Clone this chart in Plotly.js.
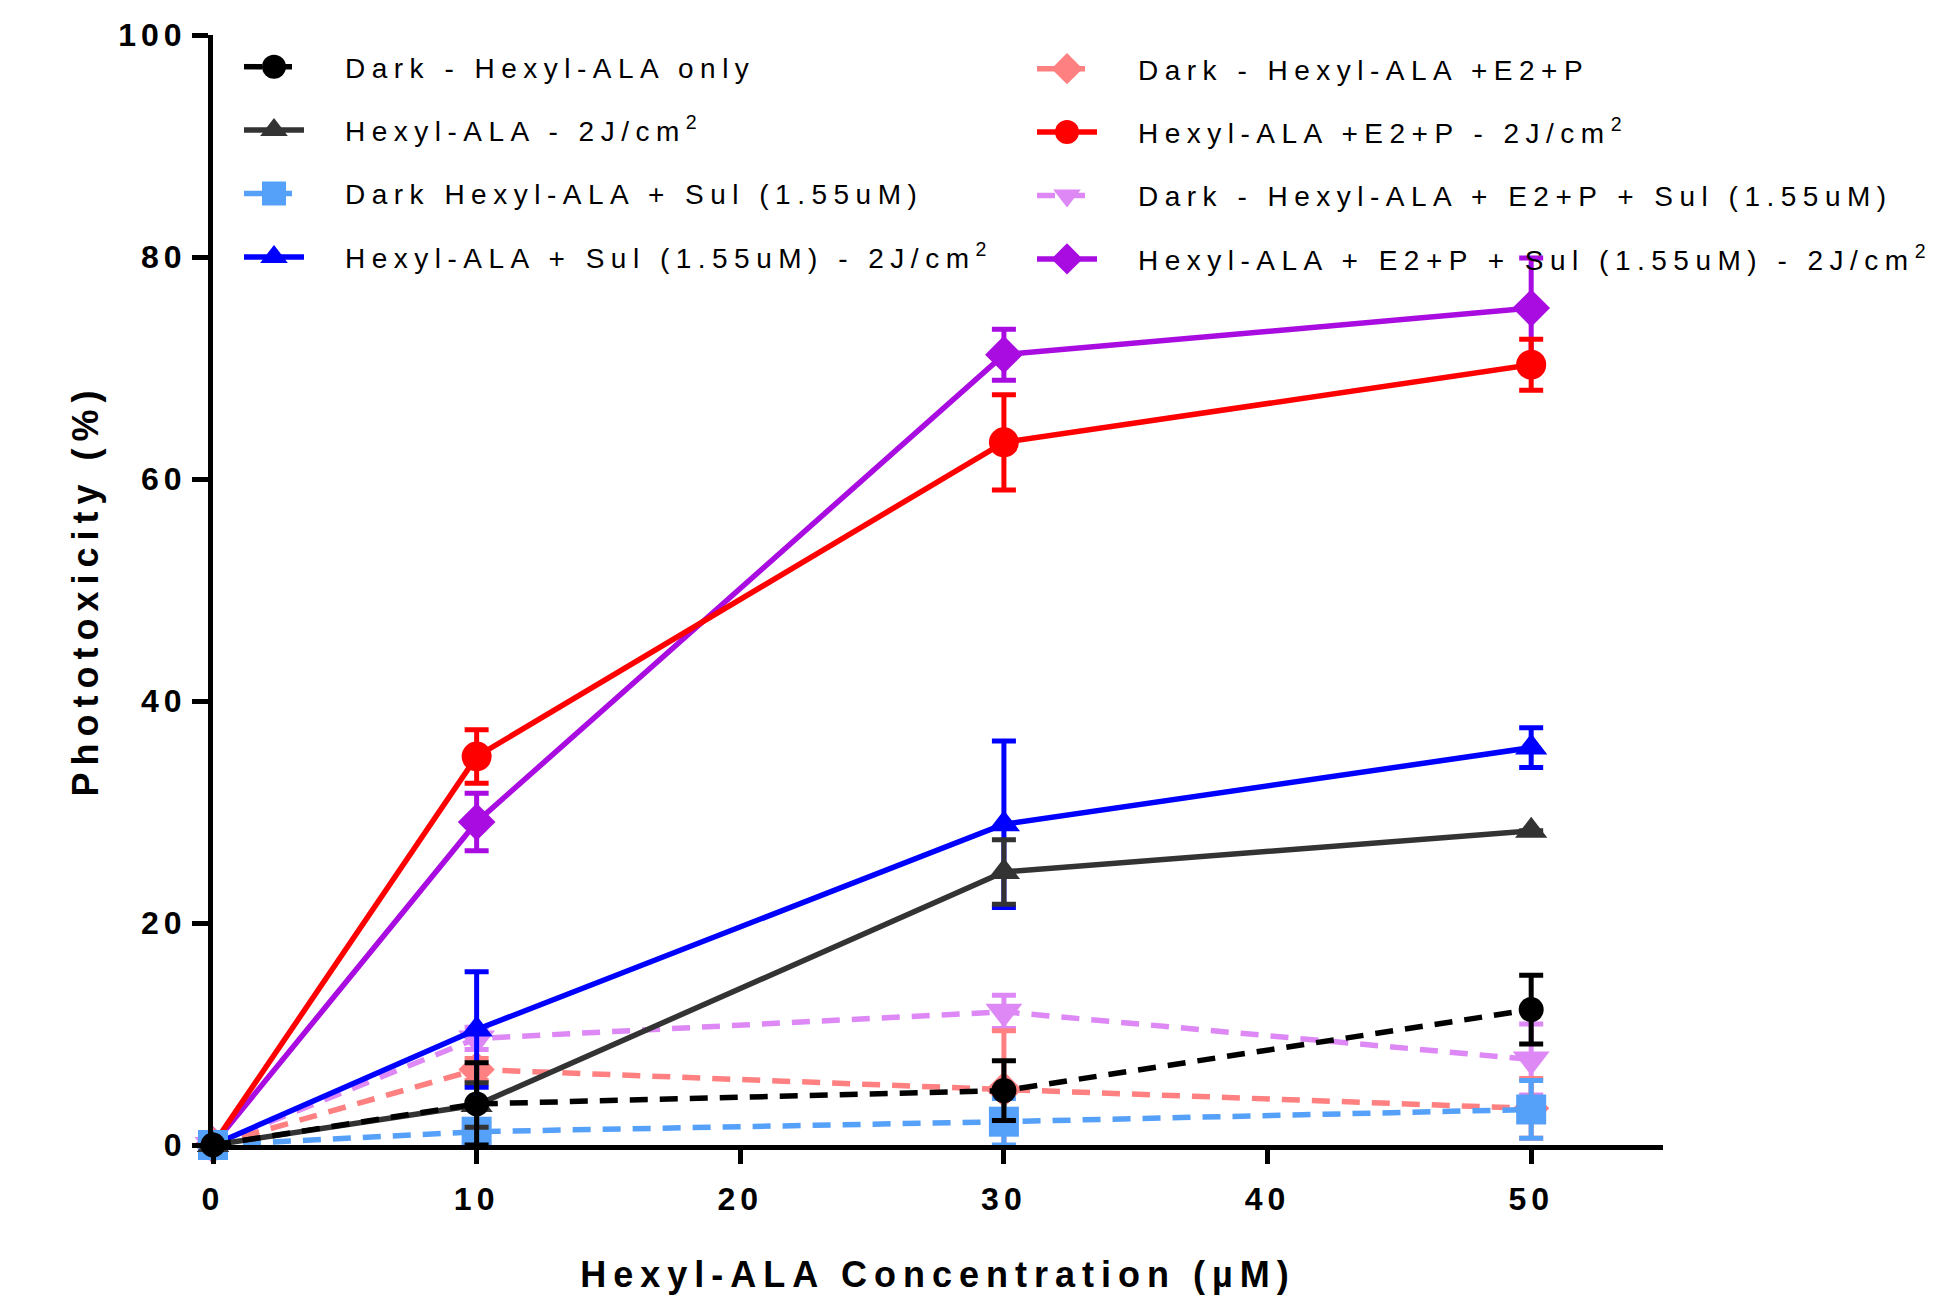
<!DOCTYPE html>
<html><head><meta charset="utf-8">
<script src="https://cdn.plot.ly/plotly-3.0.1.min.js"></script>
<style>
html,body{margin:0;padding:0;background:#fff;}
#chart{width:1943px;height:1305px;}
.infolayer text{letter-spacing:6.5px;}
.infolayer .traces text{transform:translateX(36px);}
.infolayer .scrollbox{clip-path:none !important;}
.infolayer .legendsymbols .scatterpts{transform:translate(35px,0px) scale(1.5);}
.xtick text,.ytick text{letter-spacing:5px;}
.infolayer .g-xtitle text,.infolayer .g-ytitle text{letter-spacing:7px;}
</style></head><body><div id="chart"></div>
<script>
// ---- data ----
const xConc = [0, 10, 30, 50];
const seriesNames = [
  "Dark - Hexyl-ALA only",
  "Hexyl-ALA - 2J/cm<sup>2</sup>",
  "Dark Hexyl-ALA + Sul (1.55uM)",
  "Hexyl-ALA + Sul (1.55uM) - 2J/cm<sup>2</sup>",
  "Dark - Hexyl-ALA +E2+P",
  "Hexyl-ALA +E2+P - 2J/cm<sup>2</sup>",
  "Dark - Hexyl-ALA + E2+P + Sul (1.55uM)",
  "Hexyl-ALA + E2+P + Sul (1.55uM) - 2J/cm<sup>2</sup>"
];
const darkHexyl = [0, 3.7, 4.9, 12.2];
const darkHexylErr = [0, 3.7, 2.7, 3.1];
const hexylLight = [0, 3.6, 24.6, 28.3];
const hexylLightErr = [0, 2.0, 2.9, 0];
const darkSul = [0, 1.2, 2.1, 3.2];
const darkSulErr = [0, 1.0, 2.1, 2.6];
const sulLight = [0, 10.4, 28.9, 35.8];
const sulLightErr = [0, 5.2, 7.5, 1.8];
const darkE2P = [0, 6.8, 5.0, 3.3];
const darkE2PErr = [0, 1.0, 5.3, 2.7];
const e2pLight = [0, 35.0, 63.3, 70.3];
const e2pLightErr = [0, 2.4, 4.3, 2.3];
const darkE2PSul = [0, 9.6, 12.0, 7.7];
const darkE2PSulErr = [0, 1.0, 1.5, 3.2];
const e2pSulLight = [0, 29.1, 71.2, 75.4];
const e2pSulLightErr = [0, 2.6, 2.3, 4.5];
const xTickVals = [0, 10, 20, 30, 40, 50];
const yTickVals = [0, 20, 40, 60, 80, 100];
const xTitle = "Hexyl-ALA Concentration (µM)";
const yTitle = "Phototoxicity (%)";

// ---- styles ----
const FONT = '"Liberation Sans", Arial, sans-serif';
const ys = [darkHexyl, hexylLight, darkSul, sulLight, darkE2P, e2pLight, darkE2PSul, e2pSulLight];
const es = [darkHexylErr, hexylLightErr, darkSulErr, sulLightErr, darkE2PErr, e2pLightErr, darkE2PSulErr, e2pSulLightErr];
const colors = ['#000000', '#333333', '#55A0F8', '#0000FF', '#FF8080', '#FF0000', '#DD88F5', '#A80CE0'];
const symbols = ['circle', 'triangle-up', 'square', 'triangle-up', 'diamond', 'circle', 'triangle-down', 'diamond'];
const sizes = [25, 28, 30, 28, 28, 30, 32, 29];
const dashed = [true, false, true, false, true, false, true, false];

const traces = [];
for (let i = 7; i >= 0; i--) {
  traces.push({
    type: 'scatter', mode: 'lines+markers',
    x: xConc, y: ys[i], name: seriesNames[i],
    legend: i < 4 ? 'legend' : 'legend2',
    legendgroup: 'g' + i, legendrank: i + 1,
    line: {color: colors[i], width: 5.5, dash: dashed[i] ? '18px,12px' : 'solid'},
    marker: {color: colors[i], symbol: symbols[i], size: sizes[i], line: {width: 0}},
    error_y: {type: 'data', array: es[i], visible: true, color: colors[i], thickness: 5, width: 12},
    cliponaxis: false
  });
}

const PLOT_L = 213, PLOT_W = 1450, PLOT_T = 35, PLOT_H = 1110;
const legendBase = {
  xref: 'paper', yref: 'paper', xanchor: 'left', yanchor: 'top',
  font: {family: FONT, size: 28, color: '#000'},
  bgcolor: 'rgba(0,0,0,0)', borderwidth: 0, itemwidth: 60, tracegroupgap: 24,
  itemsizing: 'trace'
};

const layout = {
  width: 1943, height: 1305,
  paper_bgcolor: '#fff', plot_bgcolor: '#fff',
  margin: {l: 213, r: 280, t: 35, b: 160},
  showlegend: true,
  legend: Object.assign({}, legendBase, {x: (239 - PLOT_L) / PLOT_W, y: 1 - (42 - PLOT_T) / PLOT_H}),
  legend2: Object.assign({}, legendBase, {x: (1032 - PLOT_L) / PLOT_W, y: 1 - (44 - PLOT_T) / PLOT_H}),
  xaxis: {
    range: [0, 55], tickvals: xTickVals, ticks: 'outside', ticklen: 14, tickwidth: 5, tickcolor: '#000',
    showline: true, linewidth: 5, linecolor: '#000', showgrid: false, zeroline: false,
    ticklabelstandoff: 8,
    tickfont: {family: FONT, size: 32, color: '#000', weight: 'bold'},
    title: {text: xTitle, standoff: 47, font: {family: FONT, size: 36, color: '#000', weight: 'bold'}}
  },
  yaxis: {
    range: [0, 100], tickvals: yTickVals, ticks: 'outside', ticklen: 16, tickwidth: 5, tickcolor: '#000',
    showline: true, linewidth: 5, linecolor: '#000', showgrid: false, zeroline: false,
    ticklabelstandoff: -1,
    tickfont: {family: FONT, size: 32, color: '#000', weight: 'bold'},
    title: {text: yTitle, standoff: 10, font: {family: FONT, size: 36, color: '#000', weight: 'bold'}}
  }
};

Plotly.newPlot('chart', traces, layout, {displayModeBar: false, staticPlot: true});
</script></body></html>
